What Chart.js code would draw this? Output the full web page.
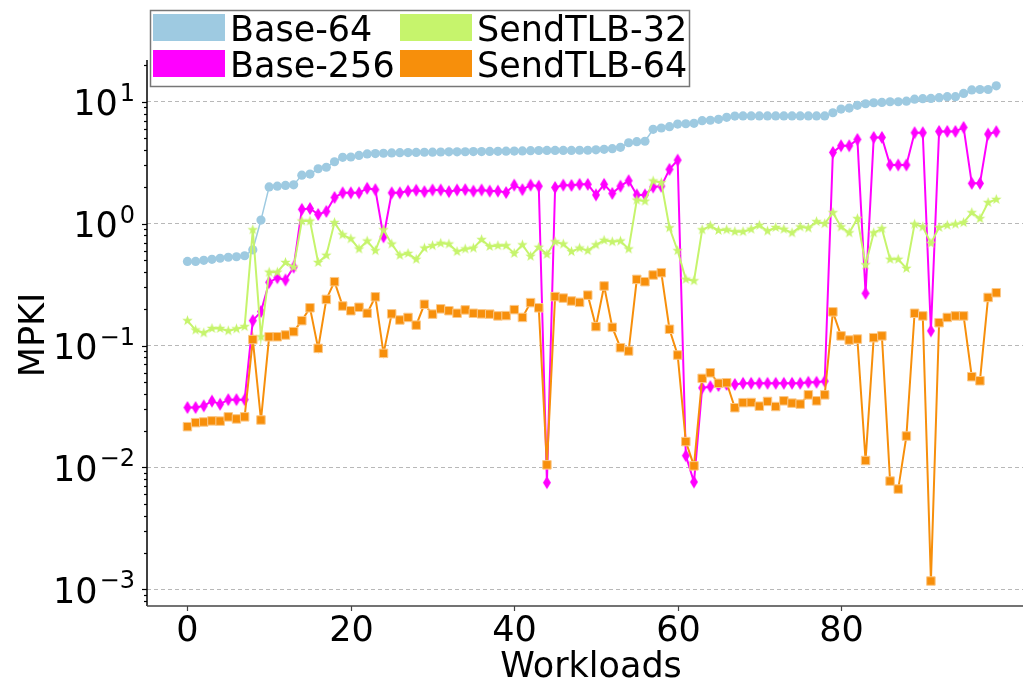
<!DOCTYPE html>
<html>
<head>
<meta charset="utf-8">
<script src="https://cdn.jsdelivr.net/npm/chart.js@4.4.0/dist/chart.umd.min.js"></script>
<style>
  html, body { margin: 0; padding: 0; background: #fff; overflow: hidden; }
  #wrap { position: relative; width: 1023px; height: 685px; }
</style>
</head>
<body>
<div id="wrap"><canvas id="mpki"></canvas></div>
<script>
// workload index on the x axis
const workloads = Array.from({length: 100}, (_, i) => i);

const base64 = [
  0.49, 0.49, 0.50, 0.51, 0.52, 0.53, 0.535, 0.545, 0.61, 1.07,
  2.0, 2.03, 2.06, 2.08, 2.5, 2.55, 2.82, 2.9, 3.22, 3.5,
  3.52, 3.63, 3.73, 3.76, 3.78, 3.80, 3.82, 3.83, 3.84, 3.85,
  3.86, 3.87, 3.88, 3.88, 3.89, 3.90, 3.90, 3.91, 3.92, 3.93,
  3.94, 3.95, 3.97, 3.98, 3.99, 3.99, 3.99, 3.99, 4.0, 4.0,
  4.03, 4.07, 4.12, 4.23, 4.61, 4.7, 4.74, 5.94, 6.09, 6.24,
  6.56, 6.6, 6.65, 6.99, 7.05, 7.17, 7.45, 7.63, 7.65, 7.65,
  7.65, 7.65, 7.65, 7.65, 7.65, 7.65, 7.65, 7.65, 7.65, 8.12,
  8.71, 8.88, 9.34, 9.63, 9.81, 9.87, 10.0, 10.0, 10.1, 10.5,
  10.6, 10.65, 10.8, 11.0, 11.0, 11.7, 12.5, 12.6, 12.6, 13.5
];

const base256 = [
  0.031, 0.031, 0.032, 0.035, 0.033, 0.036, 0.036, 0.036, 0.16, 0.19,
  0.33, 0.36, 0.345, 0.44, 1.31, 1.33, 1.19, 1.26, 1.64, 1.79,
  1.79, 1.79, 1.95, 1.9, 0.78, 1.79, 1.79, 1.85, 1.88, 1.83,
  1.89, 1.89, 1.83, 1.89, 1.9, 1.85, 1.89, 1.85, 1.85, 1.8,
  2.07, 1.9, 2.07, 2.03, 0.0075, 1.98, 2.07, 2.06, 2.1, 2.1,
  1.72, 2.1, 1.77, 2.03, 2.25, 1.72, 1.72, 2.0, 2.03, 2.79,
  3.32, 0.0125, 0.0076, 0.045, 0.046, 0.047, 0.048, 0.048, 0.049, 0.049,
  0.049, 0.049, 0.049, 0.049, 0.049, 0.049, 0.05, 0.05, 0.051, 3.84,
  4.35, 4.35, 4.91, 0.268, 5.1, 5.1, 3.03, 3.03, 3.03, 5.57,
  5.57, 0.132, 5.71, 5.71, 5.71, 6.16, 2.14, 2.14, 5.43, 5.68
];

const sendtlb32 = [
  0.16, 0.134, 0.127, 0.138, 0.138, 0.132, 0.137, 0.143, 0.89, 0.118,
  0.40, 0.40, 0.48, 0.44, 1.05, 1.05, 0.48, 0.55, 1.02, 0.81,
  0.75, 0.62, 0.72, 0.6, 0.89, 0.68, 0.55, 0.57, 0.51, 0.63,
  0.66, 0.69, 0.68, 0.59, 0.62, 0.63, 0.74, 0.65, 0.66, 0.66,
  0.57, 0.67, 0.54, 0.64, 0.56, 0.71, 0.68, 0.59, 0.63, 0.6,
  0.67, 0.73, 0.71, 0.72, 0.62, 1.56, 1.53, 2.24, 2.17, 0.925,
  0.6, 0.35, 0.34, 0.89, 0.96, 0.88, 0.89, 0.86, 0.86, 0.9,
  0.97, 0.87, 0.93, 0.9, 0.84, 0.94, 0.92, 1.04, 1.0, 1.23,
  0.94, 0.84, 1.1, 0.46, 0.84, 0.91, 0.51, 0.51, 0.43, 0.99,
  0.94, 0.69, 0.93, 0.97, 0.99, 1.02, 1.23, 1.1, 1.49, 1.58
];

const sendtlb64 = [
  0.0216, 0.0233, 0.0236, 0.0241, 0.024, 0.026, 0.025, 0.026, 0.112, 0.0245,
  0.118, 0.118, 0.122, 0.13, 0.16, 0.204, 0.0948, 0.239, 0.334, 0.211,
  0.193, 0.206, 0.184, 0.251, 0.0863, 0.182, 0.162, 0.17, 0.147, 0.218,
  0.181, 0.2, 0.193, 0.184, 0.196, 0.184, 0.182, 0.181, 0.175, 0.176,
  0.197, 0.17, 0.225, 0.204, 0.0105, 0.252, 0.245, 0.232, 0.226, 0.259,
  0.143, 0.308, 0.141, 0.096, 0.0902, 0.349, 0.334, 0.379, 0.396, 0.136,
  0.0836, 0.0163, 0.0103, 0.0538, 0.0598, 0.049, 0.0495, 0.0309, 0.034, 0.0341,
  0.0318, 0.0348, 0.0316, 0.0352, 0.0337, 0.0331, 0.0394, 0.0352, 0.0394, 0.189,
  0.12, 0.111, 0.113, 0.0114, 0.116, 0.12, 0.00773, 0.00665, 0.0181, 0.184,
  0.175, 0.00117, 0.154, 0.17, 0.175, 0.175, 0.0555, 0.0514, 0.248, 0.271
];

const xTicks = [0, 20, 40, 60, 80];
const yDecades = [-3, -2, -1, 0, 1];

const BLUE = '#9ecae1';
const MAGENTA = '#ff00ff';
const GREEN = '#c6f46c';
const ORANGE = '#f78f0b';
const FONT = '"DejaVu Sans", sans-serif';

// marker images for the shapes chart.js lacks
function starMarker(color, r) {
  const c = document.createElement('canvas');
  const s = Math.ceil(r * 2 + 2);
  c.width = s; c.height = s;
  const g = c.getContext('2d');
  g.translate(s / 2, s / 2);
  g.beginPath();
  for (let i = 0; i < 10; i++) {
    const rad = i % 2 === 0 ? r : r * 0.42;
    const a = -Math.PI / 2 + i * Math.PI / 5;
    g.lineTo(rad * Math.cos(a), rad * Math.sin(a));
  }
  g.closePath();
  g.fillStyle = color;
  g.fill();
  return c;
}

function thinDiamond(color, w, h) {
  const c = document.createElement('canvas');
  c.width = w + 2; c.height = h + 2;
  const g = c.getContext('2d');
  g.beginPath();
  g.moveTo(c.width / 2, 1);
  g.lineTo(c.width - 1, c.height / 2);
  g.lineTo(c.width / 2, c.height - 1);
  g.lineTo(1, c.height / 2);
  g.closePath();
  g.fillStyle = color;
  g.fill();
  return c;
}

function pts(arr) {
  return arr.map((v, i) => ({x: workloads[i], y: v}));
}

const legendItems = [
  {label: 'Base-64', color: BLUE, col: 0, row: 0},
  {label: 'Base-256', color: MAGENTA, col: 0, row: 1},
  {label: 'SendTLB-32', color: GREEN, col: 1, row: 0},
  {label: 'SendTLB-64', color: ORANGE, col: 1, row: 1}
];

function isDecade(v) {
  const l = Math.log10(v);
  return Math.abs(l - Math.round(l)) < 1e-9;
}

const drawPlugin = {
  id: 'drawPlugin',
  afterDraw(chart) {
    const ctx = chart.ctx;
    const a = chart.chartArea;
    const xs = chart.scales.x;
    const ys = chart.scales.y;
    ctx.save();

    // spines
    ctx.lineWidth = 1.5;
    ctx.strokeStyle = '#000';
    ctx.beginPath();
    ctx.moveTo(a.left, a.top);
    ctx.lineTo(a.left, a.bottom);
    ctx.stroke();
    ctx.strokeStyle = '#444';
    ctx.beginPath();
    ctx.moveTo(a.left, a.bottom);
    ctx.lineTo(a.right, a.bottom);
    ctx.stroke();

    // y ticks, major and minor
    ctx.strokeStyle = '#000';
    ctx.lineWidth = 1.2;
    ys.ticks.forEach(t => {
      const y = Math.round(ys.getPixelForValue(t.value)) + 0.5;
      const len = isDecade(t.value) ? 5 : 3;
      ctx.beginPath();
      ctx.moveTo(a.left - len, y);
      ctx.lineTo(a.left, y);
      ctx.stroke();
    });

    // y tick labels as 10^n
    ctx.fillStyle = '#000';
    ctx.textBaseline = 'alphabetic';
    yDecades.forEach(e => {
      const y = ys.getPixelForValue(Math.pow(10, e));
      const exp = e < 0 ? '\u2212' + (-e) : String(e);
      ctx.font = '35px ' + FONT;
      const wBase = ctx.measureText('10').width;
      ctx.font = '24px ' + FONT;
      const wExp = ctx.measureText(exp).width;
      const right = a.left - 12;
      ctx.textAlign = 'left';
      ctx.font = '35px ' + FONT;
      ctx.fillText('10', right - wExp - wBase - 2, y + 13.5);
      ctx.font = '24px ' + FONT;
      ctx.fillText(exp, right - wExp, y - 1);
    });

    // x ticks and labels
    ctx.strokeStyle = '#444';
    ctx.font = '35px ' + FONT;
    ctx.textAlign = 'center';
    xTicks.forEach(v => {
      const x = Math.round(xs.getPixelForValue(v)) + 0.5;
      ctx.beginPath();
      ctx.moveTo(x, a.bottom);
      ctx.lineTo(x, a.bottom + 5);
      ctx.stroke();
      ctx.fillText(String(v), x, 641);
    });

    // axis titles
    ctx.fillText('Workloads', 591, 677);
    ctx.save();
    ctx.translate(44, 335);
    ctx.rotate(-Math.PI / 2);
    ctx.fillText('MPKI', 0, 0);
    ctx.restore();

    // legend
    ctx.fillStyle = '#fff';
    ctx.fillRect(150, 10, 540, 77);
    ctx.strokeStyle = '#777';
    ctx.lineWidth = 1.5;
    ctx.strokeRect(150.5, 10.5, 539, 76);
    ctx.textAlign = 'left';
    ctx.font = '35px ' + FONT;
    legendItems.forEach(it => {
      const px = it.col === 0 ? 153 : 400;
      const py = it.row === 0 ? 14 : 50;
      ctx.fillStyle = it.color;
      ctx.fillRect(px, py, 72, 27);
      ctx.fillStyle = '#000';
      ctx.fillText(it.label, px + 77, py + 27);
    });

    ctx.restore();
  }
};

new Chart(document.getElementById('mpki'), {
  type: 'line',
  data: {
    datasets: [
      {
        label: 'Base-64', data: pts(base64), order: 4,
        borderColor: BLUE, backgroundColor: BLUE, borderWidth: 1.5,
        pointStyle: 'circle', pointRadius: 4.6, pointBorderWidth: 0,
        pointBackgroundColor: BLUE
      },
      {
        label: 'Base-256', data: pts(base256), order: 3,
        borderColor: MAGENTA, backgroundColor: MAGENTA, borderWidth: 2,
        pointStyle: thinDiamond(MAGENTA, 8, 13)
      },
      {
        label: 'SendTLB-32', data: pts(sendtlb32), order: 2,
        borderColor: GREEN, backgroundColor: GREEN, borderWidth: 2,
        pointStyle: starMarker(GREEN, 5.5)
      },
      {
        label: 'SendTLB-64', data: pts(sendtlb64), order: 1,
        borderColor: ORANGE, backgroundColor: ORANGE, borderWidth: 2,
        pointStyle: 'rect', pointRadius: 6, pointBorderWidth: 1,
        pointBorderColor: '#fbc98a', pointBackgroundColor: ORANGE
      }
    ]
  },
  options: {
    responsive: true,
    maintainAspectRatio: false,
    animation: false,
    devicePixelRatio: 1,
    layout: {autoPadding: false, padding: {top: 60, right: 0, left: 0, bottom: 0}},
    plugins: {legend: {display: false}, tooltip: {enabled: false}},
    elements: {line: {tension: 0}},
    scales: {
      x: {
        type: 'linear',
        min: -4.95,
        max: 102.27,
        afterFit: s => { s.height = 79; },
        afterBuildTicks: s => { s.ticks = xTicks.map(v => ({value: v})); },
        grid: {display: false, drawTicks: false},
        border: {display: false},
        ticks: {display: false}
      },
      y: {
        type: 'logarithmic',
        min: 0.00073,
        max: 22,
        afterFit: s => { s.width = 147; },
        afterBuildTicks: s => {
          const t = [];
          for (let e = -4; e <= 1; e++) {
            for (let m = 1; m <= 9; m++) {
              const v = m * Math.pow(10, e);
              if (v >= s.min && v <= s.max) t.push({value: v});
            }
          }
          s.ticks = t;
        },
        grid: {
          drawTicks: false,
          lineWidth: 1,
          color: c => (c.tick && isDecade(c.tick.value)) ? '#b8b8b8' : 'rgba(0,0,0,0)'
        },
        border: {display: false, dash: [4, 3]},
        ticks: {display: false, autoSkip: false}
      }
    }
  },
  plugins: [drawPlugin]
});
</script>
</body>
</html>
